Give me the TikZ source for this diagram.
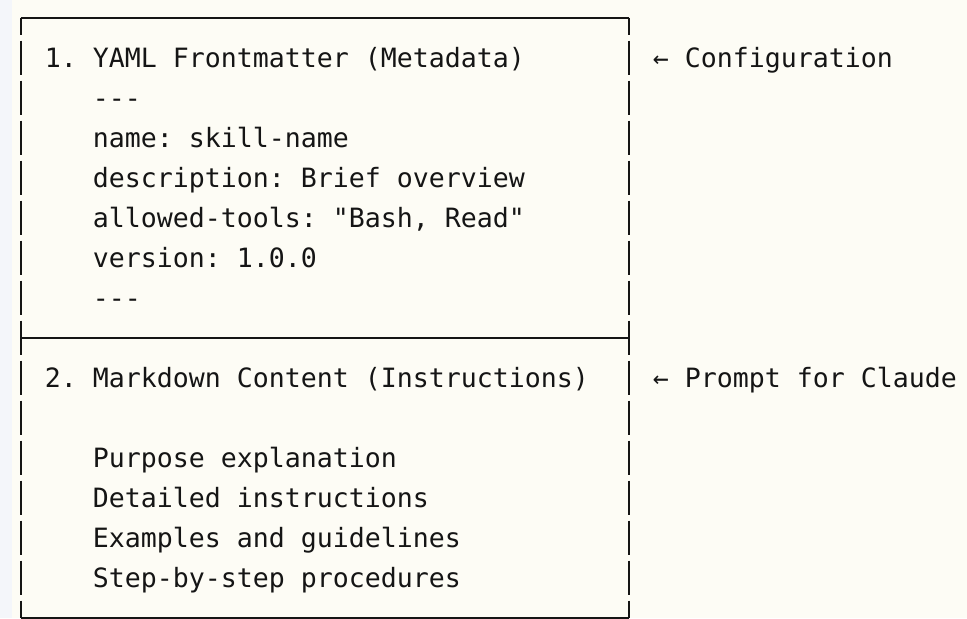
\documentclass[tikz,border=0pt]{standalone}
\usepackage{fontspec}
\setmonofont{DejaVu Sans Mono}
\usepackage{tikz}
\usetikzlibrary{calc}
\tikzset{>=latex}
\definecolor{paper}{HTML}{FDFCF5}
\definecolor{gutter}{HTML}{F4F6FA}
\definecolor{ink}{HTML}{151515}
\tikzstyle{txt} = [draw=none, inner sep=0, anchor=base west, text=ink, font=\ttfamily\frenchspacing\fontsize{19.93pt}{24pt}\selectfont]
\tikzstyle{rule} = [draw=ink, line width=1.5pt]
\tikzstyle{bar} = [rule, dash pattern=on 25.5pt off 4.5pt, dash phase=12.75pt]

\begin{document}
\begin{tikzpicture}[x=0.75pt, y=-0.75pt]
\useasboundingbox (0,0) rectangle (967,618);
\fill [paper] (0,0) rectangle (967,618);
\fill [gutter] (0,0) rectangle (12,618);
% frame corners
\coordinate (tl) at (20.7, 17.5);
\coordinate (tr) at (628.7, 17.5);
\coordinate (ml) at (20.7, 337.5);
\coordinate (mr) at (628.7, 337.5);
\coordinate (bl) at (20.7, 617.5);
\coordinate (br) at (628.7, 617.5);
\draw [rule] (tl) -- (tr);
\draw [rule] (ml) -- (mr);
\draw [rule] (bl) -- (br);
\draw [bar] (tl) -- (bl);
\draw [bar] (tr) -- (br);
% frontmatter
\node [txt] (yaml) at (44.7, 67.5) {1. YAML Frontmatter (Metadata)};
\node [txt] (open) at (92.7, 107.5) {---};
\node [txt] (name) at (92.7, 147.5) {name: skill-name};
\node [txt] (desc) at (92.7, 187.5) {description: Brief overview};
\node [txt] (tools) at (92.7, 227.5) {allowed-tools: "Bash, Read"};
\node [txt] (vers) at (92.7, 267.5) {version: 1.0.0};
\node [txt] (close) at (92.7, 307.5) {---};
% content
\node [txt] (md) at (44.7, 387.5) {2. Markdown Content (Instructions)};
\node [txt] (purp) at (92.7, 467.5) {Purpose explanation};
\node [txt] (detail) at (92.7, 507.5) {Detailed instructions};
\node [txt] (expl) at (92.7, 547.5) {Examples and guidelines};
\node [txt] (steps) at (92.7, 587.5) {Step-by-step procedures};
% notes on the right
\node [txt] (config) at (652.7, 67.5) {← Configuration};
\node [txt] (prompt) at (652.7, 387.5) {← Prompt for Claude};
\end{tikzpicture}
\end{document}
